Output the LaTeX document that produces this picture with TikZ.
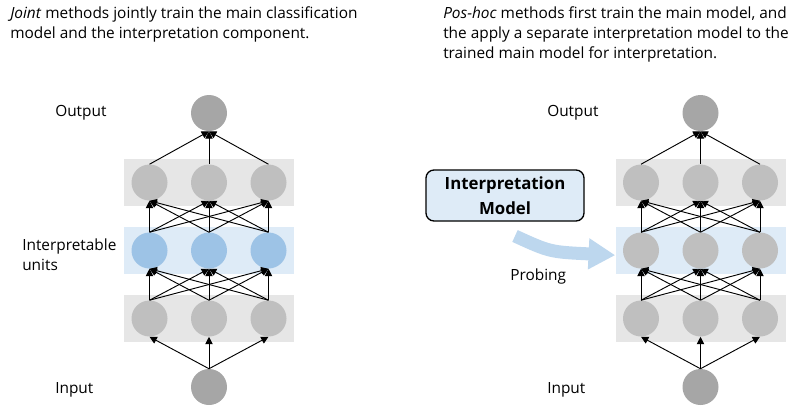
\documentclass[tikz,border=0pt]{standalone}
\usepackage{fontspec}
\setmainfont{Open Sans}
\usetikzlibrary{arrows.meta}

\definecolor{layergray}{HTML}{E6E6E6}
\definecolor{unitgray}{HTML}{BFBFBF}
\definecolor{endgray}{HTML}{A6A6A6}
\definecolor{layerblue}{HTML}{DEEBF7}
\definecolor{unitblue}{HTML}{9DC3E6}
\definecolor{probeblue}{HTML}{BDD7EE}

\begin{document}
\begin{tikzpicture}[x = 0.75pt, y = -0.75pt, font = \fontsize{11.55}{15}\selectfont,
  unit/.style = {circle, minimum size = 27pt, inner sep = 0pt, fill = unitgray},
  blueunit/.style = {unit, fill = unitblue},
  endunit/.style = {unit, fill = endgray},
  layer/.style = {minimum width = 127.5pt, minimum height = 35.25pt, inner sep = 0pt, fill = layergray},
  bluelayer/.style = {layer, fill = layerblue},
  link/.style = {-{Triangle[length = 5.5pt, width = 5.5pt]}, line width = 0.7pt},
  sidetext/.style = {anchor = west, inner sep = 0pt, align = left},
  toptext/.style = {anchor = north west, inner sep = 0pt, align = left},
  modelbox/.style = {draw, line width = 1pt, rounded corners = 6pt, fill = layerblue,
    minimum width = 118.5pt, minimum height = 38.25pt, align = center,
    font = \bfseries\fontsize{12.6}{18.5}\selectfont},
  probe/.style = {draw = probeblue, line width = 9.75pt,
    -{Triangle[length = 20pt, width = 22pt]}}]

  \useasboundingbox (0, 0) rectangle (793, 405);

  % Captions
  \node[toptext] (joint-text) at (10, 6) {\textit{Joint} methods jointly train the main classification\\model and the interpretation component.};
  \node[toptext] (poshoc-text) at (443, 6) {\textit{Pos-hoc} methods first train the main model, and\\the apply a separate interpretation model to the\\trained main model for interpretation.};

  % Layers
  \node[layer] (l-hidden) at (209, 182.5) {};
  \node[bluelayer] (l-units) at (209, 250.5) {};
  \node[layer] (l-low) at (209, 318.5) {};
  \node[layer] (r-hidden) at (700.5, 182.5) {};
  \node[bluelayer] (r-units) at (700.5, 250.5) {};
  \node[layer] (r-low) at (700.5, 318.5) {};

  % Left network
  \node[endunit] (l-out) at (209, 113) {};
  \node[unit] (l-z1) at (149.5, 182.5) {};
  \node[unit] (l-z2) at (209, 182.5) {};
  \node[unit] (l-z3) at (268.5, 182.5) {};
  \node[blueunit] (l-u1) at (149.5, 250.5) {};
  \node[blueunit] (l-u2) at (209, 250.5) {};
  \node[blueunit] (l-u3) at (268.5, 250.5) {};
  \node[unit] (l-x1) at (149.5, 318.5) {};
  \node[unit] (l-x2) at (209, 318.5) {};
  \node[unit] (l-x3) at (268.5, 318.5) {};
  \node[endunit] (l-in) at (209, 387) {};

  % Right network
  \node[endunit] (r-out) at (700.5, 113) {};
  \node[unit] (r-z1) at (641, 182.5) {};
  \node[unit] (r-z2) at (700.5, 182.5) {};
  \node[unit] (r-z3) at (760, 182.5) {};
  \node[unit] (r-u1) at (641, 250.5) {};
  \node[unit] (r-u2) at (700.5, 250.5) {};
  \node[unit] (r-u3) at (760, 250.5) {};
  \node[unit] (r-x1) at (641, 318.5) {};
  \node[unit] (r-x2) at (700.5, 318.5) {};
  \node[unit] (r-x3) at (760, 318.5) {};
  \node[endunit] (r-in) at (700.5, 387) {};

  % Links
  \foreach \side in {l, r} {
    \foreach \i in {1, 2, 3} {
      \draw[link] (\side-in.north) -- (\side-x\i.south);
      \draw[link] (\side-z\i.north) -- (\side-out.south);
      \foreach \j in {1, 2, 3} {
        \draw[link] (\side-x\i.north) -- (\side-u\j.south);
        \draw[link] (\side-u\i.north) -- (\side-z\j.south);
      }
    }
  }

  % Labels
  \node[sidetext] (l-out-text) at (55, 113) {Output};
  \node[sidetext] (l-units-text) at (22, 255) {Interpretable\\units};
  \node[sidetext] (l-in-text) at (55, 390) {Input};
  \node[sidetext] (r-out-text) at (547, 113) {Output};
  \node[sidetext] (r-in-text) at (547, 390) {Input};

  % Probing
  \node[modelbox] (model) at (505, 195.5) {Interpretation\\Model};
  \coordinate (probe-start) at (515, 236);
  \coordinate (probe-bend) at (550, 252);
  \draw[probe] (probe-start) .. controls (probe-bend) .. ([yshift = -3.5pt]r-units.west);
  \node[sidetext] (probing) at (510, 276) {Probing};

\end{tikzpicture}
\end{document}
